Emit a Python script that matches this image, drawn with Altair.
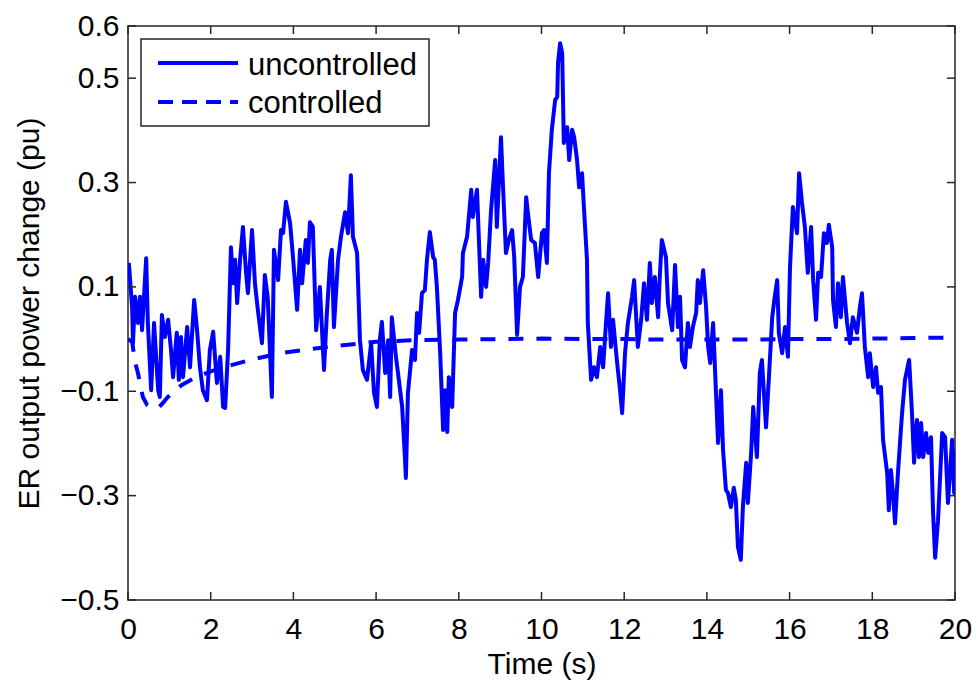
import altair as alt
import pandas as pd

# ---------------- data ----------------
unc_t = [0.02, 0.10, 0.12, 0.17, 0.24, 0.29, 0.34, 0.44, 0.48, 0.56, 0.63, 0.73, 0.77, 0.82, 0.89, 0.97,
         1.04, 1.09, 1.18, 1.23, 1.28, 1.33, 1.43, 1.50, 1.60, 1.67, 1.74, 1.81, 1.91, 1.98, 2.06, 2.15,
         2.23, 2.30, 2.35, 2.42, 2.49, 2.54, 2.59, 2.64, 2.71, 2.78, 2.85, 2.90, 3.00, 3.07, 3.14, 3.24,
         3.31, 3.38, 3.48, 3.53, 3.63, 3.70, 3.75, 3.82, 3.92, 3.99, 4.09, 4.16, 4.21, 4.30, 4.35, 4.40,
         4.47, 4.55, 4.64, 4.74, 4.81, 4.89, 4.93, 4.98, 5.08, 5.15, 5.25, 5.32, 5.39, 5.44, 5.54, 5.61,
         5.68, 5.78, 5.88, 5.95, 6.02, 6.09, 6.14, 6.22, 6.29, 6.34, 6.38, 6.48, 6.55, 6.63, 6.70, 6.72,
         6.77, 6.87, 6.94, 6.99, 7.04, 7.11, 7.18, 7.23, 7.30, 7.38, 7.42, 7.47, 7.55, 7.62, 7.67, 7.72,
         7.76, 7.84, 7.91, 7.98, 8.08, 8.10, 8.20, 8.30, 8.34, 8.44, 8.54, 8.59, 8.66, 8.71, 8.78, 8.88,
         8.92, 9.02, 9.07, 9.14, 9.21, 9.29, 9.34, 9.41, 9.48, 9.55, 9.63, 9.67, 9.75, 9.84, 9.92, 10.01,
         10.06, 10.13, 10.18, 10.25, 10.33, 10.38, 10.40, 10.45, 10.50, 10.54, 10.62, 10.67, 10.74, 10.79,
         10.86, 10.91, 10.98, 11.03, 11.10, 11.12, 11.20, 11.27, 11.34, 11.42, 11.49, 11.56, 11.61, 11.68,
         11.73, 11.83, 11.90, 11.95, 12.02, 12.09, 12.19, 12.24, 12.33, 12.41, 12.48, 12.55, 12.62, 12.67,
         12.74, 12.82, 12.86, 12.91, 13.01, 13.06, 13.16, 13.23, 13.30, 13.35, 13.40, 13.47, 13.54, 13.59,
         13.66, 13.74, 13.78, 13.83, 13.91, 13.98, 14.03, 14.08, 14.15, 14.20, 14.27, 14.34, 14.39, 14.46,
         14.51, 14.58, 14.65, 14.70, 14.75, 14.82, 14.87, 14.95, 14.99, 15.07, 15.12, 15.21, 15.28, 15.33,
         15.43, 15.50, 15.58, 15.63, 15.70, 15.74, 15.82, 15.89, 15.96, 16.01, 16.08, 16.18, 16.23, 16.30,
         16.37, 16.44, 16.52, 16.57, 16.64, 16.69, 16.76, 16.83, 16.90, 16.95, 17.03, 17.05, 17.12, 17.17,
         17.24, 17.29, 17.39, 17.46, 17.53, 17.63, 17.70, 17.75, 17.82, 17.90, 17.94, 18.02, 18.09, 18.14,
         18.21, 18.26, 18.36, 18.40, 18.45, 18.50, 18.55, 18.62, 18.67, 18.72, 18.79, 18.89, 18.96, 19.01,
         19.08, 19.13, 19.18, 19.23, 19.30, 19.35, 19.42, 19.47, 19.52, 19.59, 19.69, 19.76, 19.83, 19.93,
         19.98, 20.00]
unc_v = [0.146, 0.061, -0.008, 0.081, 0.031, 0.081, 0.017, 0.155, 0.031, -0.098, 0.031, -0.098, -0.111, 0.046, 0.004, 0.037,
         -0.021, -0.073, 0.012, -0.078, 0.004, -0.073, 0.023, -0.054, 0.075, 0.017, -0.054, -0.098, -0.117, -0.021, 0.014, -0.084,
         -0.034, -0.130, -0.132, -0.021, 0.176, 0.107, 0.152, 0.069, 0.152, 0.215, 0.132, 0.088, 0.209, 0.107, 0.056, -0.008,
         0.123, 0.079, -0.111, 0.171, 0.113, 0.209, 0.203, 0.263, 0.222, 0.157, 0.056, 0.171, 0.107, 0.190, 0.146, 0.224,
         0.215, 0.017, 0.100, -0.059, 0.050, 0.152, 0.171, 0.023, 0.152, 0.196, 0.243, 0.203, 0.314, 0.196, 0.165, -0.002,
         -0.059, -0.078, -0.008, -0.103, -0.130, -0.002, 0.033, -0.065, -0.002, -0.111, 0.042, -0.034, -0.078, -0.130, -0.232, -0.266,
         -0.103, -0.021, -0.040, 0.050, 0.012, 0.088, 0.094, 0.152, 0.205, 0.157, 0.152, 0.100, -0.027, -0.174, -0.098, -0.178,
         -0.073, -0.130, 0.050, 0.075, 0.119, 0.165, 0.196, 0.286, 0.234, 0.286, 0.081, 0.152, 0.100, 0.146, 0.247, 0.343,
         0.215, 0.387, 0.291, 0.165, 0.190, 0.209, 0.157, 0.008, 0.100, 0.119, 0.272, 0.242, 0.190, 0.184, 0.119, 0.203,
         0.209, 0.146, 0.318, 0.401, 0.458, 0.464, 0.529, 0.567, 0.548, 0.376, 0.406, 0.343, 0.401, 0.387,
         0.343, 0.291, 0.318, 0.247, 0.152, 0.031, -0.078, -0.054, -0.073, -0.015, -0.054, 0.031, 0.088, -0.015,
         0.037, -0.046, -0.098, -0.142, -0.027, 0.031, 0.081, 0.113, -0.015, 0.037, 0.107, 0.037, 0.146, 0.069,
         0.119, 0.042, 0.119, 0.190, 0.157, 0.069, 0.017, 0.142, 0.023, 0.081, -0.040, -0.054, 0.031, -0.015,
         0.023, 0.050, 0.113, 0.069, 0.132, 0.061, -0.015, -0.046, 0.031, -0.065, -0.199, -0.098, -0.212, -0.289,
         -0.295, -0.322, -0.285, -0.308, -0.398, -0.423, -0.322, -0.237, -0.314, -0.218, -0.130, -0.226, -0.065, -0.040,
         -0.169, -0.073, 0.042, 0.075, 0.113, 0.012, -0.027, 0.023, -0.034, 0.138, 0.253, 0.203, 0.318, 0.261,
         0.215, 0.127, 0.215, 0.113, 0.037, 0.127, 0.119, 0.203, 0.184, 0.219, 0.176, 0.075, 0.023, 0.107,
         0.042, 0.119, 0.031, -0.008, 0.042, 0.012, 0.061, 0.088, -0.015, -0.073, -0.027, -0.092, -0.054, -0.103,
         -0.092, -0.193, -0.257, -0.328, -0.251, -0.295, -0.353, -0.257, -0.199, -0.142, -0.078, -0.040, -0.142, -0.237,
         -0.155, -0.226, -0.161, -0.226, -0.180, -0.218, -0.188, -0.333, -0.419, -0.347, -0.180, -0.188, -0.314, -0.193,
         -0.295, -0.213]

ctl_t = [0.0, 0.10, 0.17, 0.24, 0.36, 0.46, 0.60, 0.73, 0.85, 0.94, 1.10, 1.30, 1.60, 2.0, 2.5, 3.0, 3.7,
         4.4, 5.2, 6.0, 7.0, 8.0, 9.0, 10.0, 11.0, 12.0, 13.0, 14.0, 15.0, 16.0, 17.0, 18.0, 19.0, 20.0]
ctl_v = [0.0, -0.005, -0.044, -0.065, -0.111, -0.126, -0.132, -0.132, -0.122, -0.113, -0.100, -0.088, -0.075,
         -0.062, -0.050, -0.039, -0.027, -0.019, -0.012, -0.005, -0.002, -0.001, 0.0, 0.001, 0.0, 0.0,
         -0.001, -0.001, -0.001, 0.0, 0.0, 0.001, 0.002, 0.003]

series_names = ["uncontrolled", "controlled"]
x_ticks = [0, 2, 4, 6, 8, 10, 12, 14, 16, 18, 20]
y_ticks = [-0.5, -0.3, -0.1, 0.1, 0.3, 0.5, 0.6]
x_title = "Time (s)"
y_title = "ER output power change (pu)"

# ---------------- styling ----------------
W, H = 827, 574
BLUE = "#0000ff"
FRAME = "#262626"
FONT = "Liberation Sans"
FS = 30
TICK = 8
LW = 4

unc = pd.DataFrame({"t": unc_t, "v": unc_v})
ctl = pd.DataFrame({"t": ctl_t, "v": ctl_v})
xt = pd.DataFrame({"t": x_ticks})
yt = pd.DataFrame({"v": y_ticks})
one = pd.DataFrame({"a": [0]})

xscale = alt.Scale(domain=[0, 20], nice=False, zero=False)
yscale = alt.Scale(domain=[-0.5, 0.6], nice=False, zero=False)

x_axis = alt.Axis(values=x_ticks, format="d", ticks=False, tickSize=0, domain=False, grid=False,
                  labelFont=FONT, labelFontSize=FS, labelColor="black", labelPadding=38,
                  labelBaseline="alphabetic", labelFlush=False, labelOverlap=False,
                  title=x_title, titleFont=FONT, titleFontSize=FS, titleFontWeight="normal",
                  titleColor="black", titleX=W / 2, titleY=73, titleBaseline="alphabetic",
                  titleAlign="center")
y_axis = alt.Axis(values=y_ticks, format=".1f", ticks=False, tickSize=0, domain=False, grid=False,
                  labelFont=FONT, labelFontSize=FS, labelColor="black", labelPadding=9,
                  labelBaseline="middle", labelFlush=False, labelOverlap=False,
                  title=y_title, titleFont=FONT, titleFontSize=FS, titleFontWeight="normal",
                  titleColor="black", titleX=-90, titleY=H / 2, titleAngle=-90,
                  titleBaseline="alphabetic", titleAlign="center")

line_unc = alt.Chart(unc).mark_line(color=BLUE, strokeWidth=LW, clip=True, strokeJoin="round").encode(
    x=alt.X("t:Q", scale=xscale, axis=x_axis),
    y=alt.Y("v:Q", scale=yscale, axis=y_axis),
)
line_ctl = alt.Chart(ctl).mark_line(color=BLUE, strokeWidth=LW, clip=True, strokeDash=[15, 13]).encode(
    x=alt.X("t:Q", scale=xscale, axis=x_axis),
    y=alt.Y("v:Q", scale=yscale, axis=y_axis),
)

tick_style = dict(color=FRAME, strokeWidth=1.5)
xt_bot = alt.Chart(xt).mark_rule(**tick_style).encode(
    x=alt.X("t:Q", scale=xscale, axis=x_axis), y=alt.value(H), y2=alt.value(H - TICK))
xt_top = alt.Chart(xt).mark_rule(**tick_style).encode(
    x=alt.X("t:Q", scale=xscale, axis=x_axis), y=alt.value(0), y2=alt.value(TICK))
yt_left = alt.Chart(yt).mark_rule(**tick_style).encode(
    y=alt.Y("v:Q", scale=yscale, axis=y_axis), x=alt.value(0), x2=alt.value(TICK))
yt_right = alt.Chart(yt).mark_rule(**tick_style).encode(
    y=alt.Y("v:Q", scale=yscale, axis=y_axis), x=alt.value(W), x2=alt.value(W - TICK))

# legend box
leg_box = alt.Chart(one).mark_rect(fill="white", stroke=FRAME, strokeWidth=1.5).encode(
    x=alt.value(13), x2=alt.value(301), y=alt.value(13), y2=alt.value(100))
leg_l1 = alt.Chart(one).mark_rule(color=BLUE, strokeWidth=LW).encode(
    x=alt.value(30), x2=alt.value(110), y=alt.value(37))
leg_l2 = alt.Chart(one).mark_rule(color=BLUE, strokeWidth=LW, strokeDash=[15, 9]).encode(
    x=alt.value(30), x2=alt.value(110), y=alt.value(76))
leg_t1 = alt.Chart(one).mark_text(align="left", baseline="alphabetic", font=FONT, fontSize=31,
                                  color="black").encode(
    x=alt.value(120), y=alt.value(49), text=alt.value(series_names[0]))
leg_t2 = alt.Chart(one).mark_text(align="left", baseline="alphabetic", font=FONT, fontSize=31,
                                  color="black").encode(
    x=alt.value(120), y=alt.value(87), text=alt.value(series_names[1]))

chart = alt.layer(
    line_unc, line_ctl, xt_bot, xt_top, yt_left, yt_right,
    leg_box, leg_l1, leg_l2, leg_t1, leg_t2
).properties(
    width=W, height=H,
    autosize=alt.AutoSizeParams(type="none"),
    padding={"left": 128, "top": 26, "right": 23, "bottom": 81},
    background="white",
).configure_view(stroke=FRAME, strokeWidth=1.5)

chart.save("out.html", embed_options={"renderer": "svg", "actions": False})
